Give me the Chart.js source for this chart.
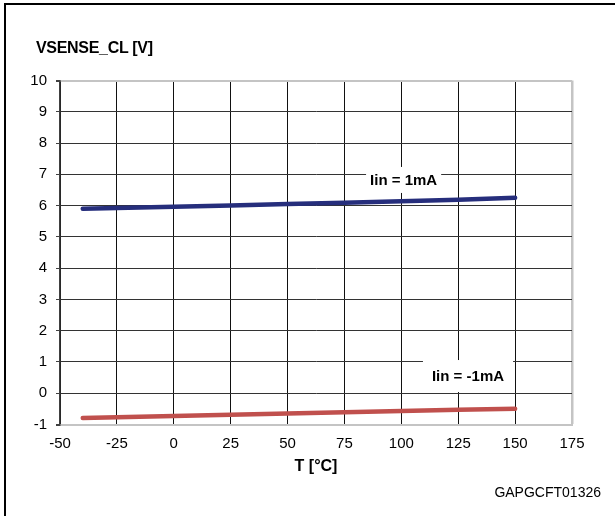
<!DOCTYPE html>
<html>
<head>
<meta charset="utf-8">
<script src="https://cdn.jsdelivr.net/npm/chart.js@4.4.1/dist/chart.umd.min.js"></script>
<style>
  html, body { margin: 0; padding: 0; background: #fff; }
  #wrap { position: relative; width: 615px; height: 516px; overflow: hidden; font-family: "Liberation Sans", Arial, sans-serif; }
  #frame { position: absolute; left: 4px; top: 3px; width: 620px; height: 530px; border: 2.5px solid #000; box-sizing: border-box; }
  #chart { position: absolute; left: 0; top: 0; }
  #ytitle { position: absolute; left: 36px; top: 39px; font-weight: bold; font-size: 16px; letter-spacing: -0.3px; color: #000; }
  #code { position: absolute; right: 14px; top: 484px; font-size: 14px; color: #000; }
</style>
</head>
<body>
<div id="wrap">
  <div id="frame"></div>
  <canvas id="chart" width="615" height="516"></canvas>
  <div id="ytitle">VSENSE_CL [V]</div>
  <div id="code">GAPGCFT01326</div>
</div>
<script>
// temperaturas y tensiones
const temps = [-40, -25, 0, 25, 50, 75, 100, 125, 150];
const vPos = [5.90, 5.92, 5.96, 6.00, 6.05, 6.09, 6.14, 6.19, 6.25];   // Iin = 1mA
const vNeg = [-0.79, -0.77, -0.73, -0.69, -0.65, -0.61, -0.57, -0.53, -0.50]; // Iin = -1mA
const xTicks = [-50, -25, 0, 25, 50, 75, 100, 125, 150, 175];
const yTicks = [-1, 0, 1, 2, 3, 4, 5, 6, 7, 8, 9, 10];
const seriesNames = ["Iin = 1mA", "Iin = -1mA"];

// etiquetas dentro del grafico (en unidades de datos)
const notes = [
  { text: seriesNames[0], x: 101, y: 6.82, padX: 4, padY: 5 },
  { text: seriesNames[1], x: 129.3, y: 0.55, padX: 9, padY: 8 }
];

const toPoints = (xs, ys) => xs.map((x, i) => ({ x: x, y: ys[i] }));

const notesPlugin = {
  id: "notes",
  beforeDatasetsDraw(chart) {
    const ctx = chart.ctx;
    const xs = chart.scales.x, ys = chart.scales.y;
    ctx.save();
    ctx.font = "bold 15px 'Liberation Sans', Arial, sans-serif";
    ctx.textAlign = "center";
    ctx.textBaseline = "middle";
    notes.forEach(n => {
      const px = xs.getPixelForValue(n.x);
      const py = ys.getPixelForValue(n.y);
      const w = ctx.measureText(n.text).width;
      ctx.fillStyle = "#fff";
      ctx.fillRect(px - w / 2 - n.padX, py - 8 - n.padY, w + 2 * n.padX, 16 + 2 * n.padY);
      ctx.fillStyle = "#000";
      ctx.fillText(n.text, px, py + 1);
    });
    ctx.restore();
  }
};

const font = { family: "'Liberation Sans', Arial, sans-serif", size: 15 };

new Chart(document.getElementById("chart"), {
  type: "scatter",
  data: {
    datasets: [
      {
        label: seriesNames[0],
        data: toPoints(temps, vPos),
        showLine: true,
        borderColor: "#262e7c",
        borderWidth: 4.5,
        pointRadius: 0,
        borderCapStyle: "round"
      },
      {
        label: seriesNames[1],
        data: toPoints(temps, vNeg),
        showLine: true,
        borderColor: "#c0504d",
        borderWidth: 4.5,
        pointRadius: 0,
        borderCapStyle: "round"
      }
    ]
  },
  options: {
    responsive: false,
    animation: false,
    layout: { padding: { left: 0, top: 80.5, right: 43, bottom: 31.5 } },
    plugins: {
      legend: { display: false },
      tooltip: { enabled: false }
    },
    scales: {
      x: {
        type: "linear",
        min: -50,
        max: 175,
        afterBuildTicks: s => { s.ticks = xTicks.map(v => ({ value: v })); },
        afterFit: s => { s.height = 60; },
        ticks: { color: "#000", font: font, padding: 10 },
        grid: {
          drawTicks: false,
          color: c => c.tick && c.tick.value === 175 ? "#c4c4c4" : "#111",
          lineWidth: c => c.tick && c.tick.value === 175 ? 2.5 : 1
        },
        border: { color: "#c4c4c4", width: 2 },
        title: {
          display: true,
          text: "T [°C]",
          color: "#000",
          font: { family: font.family, size: 16, weight: "bold" },
          padding: { top: 0, bottom: 8 }
        }
      },
      y: {
        type: "linear",
        min: -1,
        max: 10,
        afterBuildTicks: s => { s.ticks = yTicks.map(v => ({ value: v })); },
        afterFit: s => { s.width = 60; },
        ticks: { color: "#000", font: font, padding: 9 },
        grid: {
          tickLength: 4,
          tickColor: "#404040",
          color: c => c.tick && (c.tick.value === 10 || c.tick.value === -1) ? "#c4c4c4" : "#333",
          lineWidth: c => c.tick && (c.tick.value === 10 || c.tick.value === -1) ? 2 : 1
        },
        border: { color: "#404040", width: 1.5 }
      }
    }
  },
  plugins: [notesPlugin]
});
</script>
</body>
</html>
